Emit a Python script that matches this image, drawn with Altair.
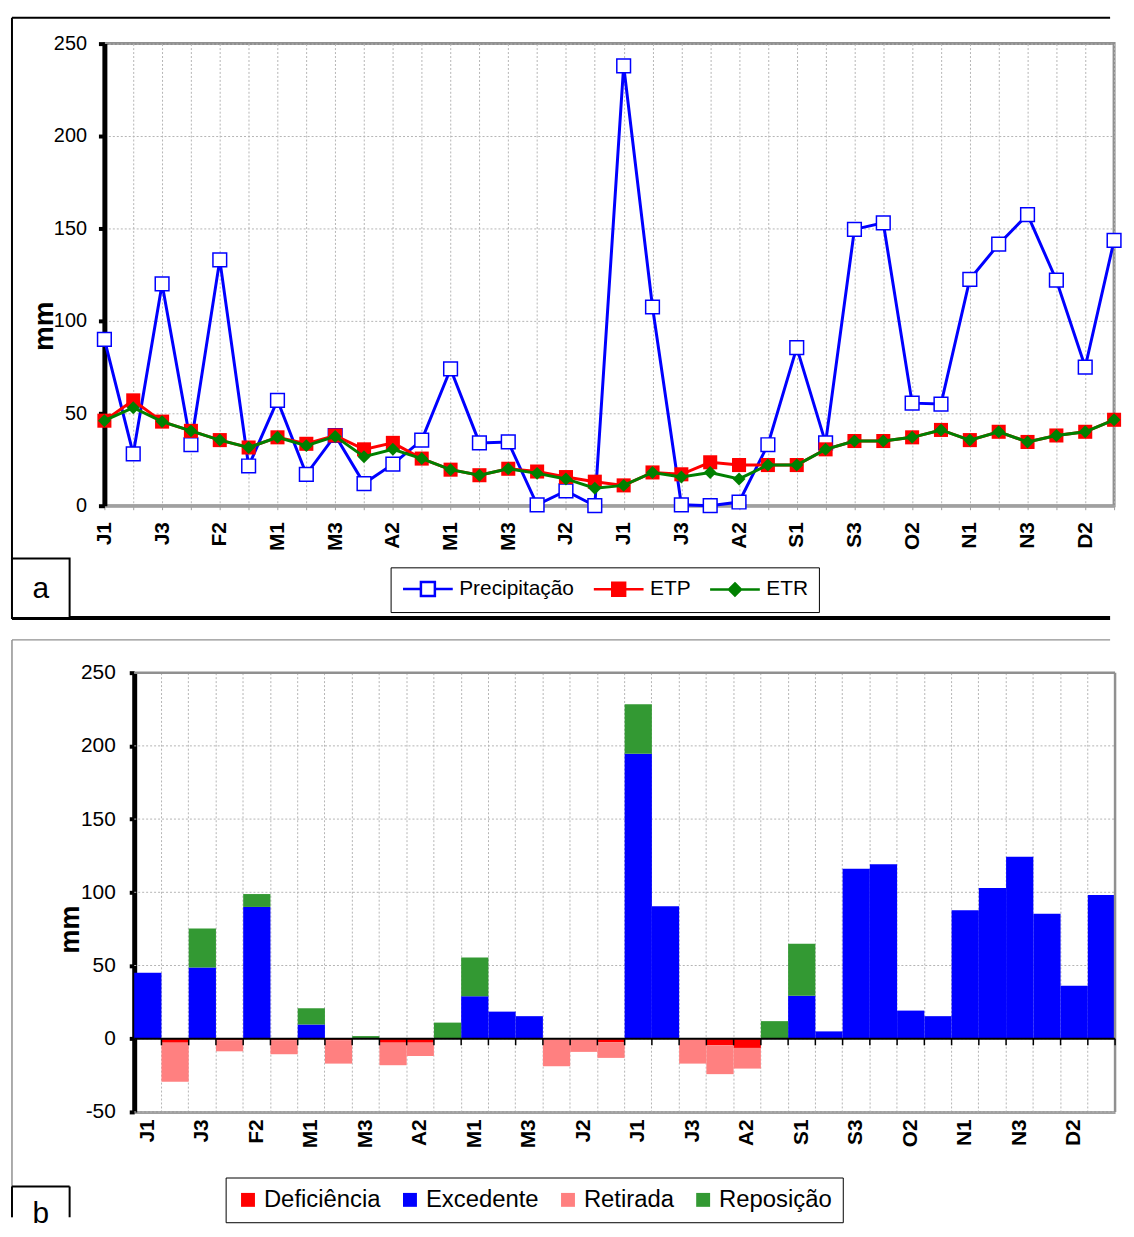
import altair as alt
import pandas as pd

# ---------------- data ----------------
decades = ['J1','J2','J3','F1','F2','F3','M1','M2','M3','A1','A2','A3',
           'M1','M2','M3','J1','J2','J3','J1','J2','J3','A1','A2','A3',
           'S1','S2','S3','O1','O2','O3','N1','N2','N3','D1','D2','D3']

precip = [90, 28, 120, 33, 133, 21.5, 57, 17, 38, 12, 22.5, 35.5,
          74, 34, 34.5, 0.5, 8, 0, 238, 107.5, 0.5, 0, 2, 33,
          85.5, 34, 149.5, 153, 55.5, 55, 122.5, 141.5, 157.5, 122, 75, 143.5]
etp = [46, 57, 45.5, 40.5, 35.5, 31.5, 37, 33.5, 38, 30.5, 34, 25.5,
       19.5, 16.5, 20, 18.5, 15.5, 13, 11, 18, 17, 23.5, 22, 22,
       22, 30.5, 35, 35, 37, 41, 35.5, 40, 34.5, 38, 40, 46.5]
etr = [46, 53, 45.5, 40.5, 35.5, 31.5, 37, 32.5, 37.5, 26.5, 30.5, 25.5,
       19.5, 16.5, 20, 17.5, 14.5, 9.5, 11, 18, 15.5, 18, 14.5, 22,
       22, 30.5, 35, 35, 37, 41, 35.5, 40, 34.5, 38, 40, 46.5]

deficiencia = [0, -2.7, 0, -1, 0, -1, 0, -1, 0, -2.7, -2.7, 0,
               0, 0, 0, -0.5, -0.5, -2.3, 0, 0, -0.5, -4.5, -6.3, 0,
               0, 0, 0, 0, 0, 0, 0, 0, 0, 0, 0, 0]
excedente = [45, 0, 48.6, 0, 90, 0, 9.7, 0, 0, 0, 0, 0,
             29, 18.5, 15.4, 0, 0, 0, 194.6, 90.5, 0, 0, 0, 0,
             29.4, 5, 116, 119.2, 19.2, 15.4, 87.8, 102.9, 124.2, 85.3, 36.2, 98.2]
retirada = [0, -26.7, 0, -7.6, 0, -9.6, 0, -16, 0, -15.4, -9.1, 0,
            0, 0, 0, -18.3, -8.5, -10.8, 0, 0, -16.5, -19.7, -14.1, 0,
            0, 0, 0, 0, 0, 0, 0, 0, 0, 0, 0, 0]
reposicao = [0, 0, 26.7, 0, 8.8, 0, 11.1, 0, 1.8, 0, 0, 11,
             26.4, 0, 0, 0, 0, 0, 33.9, 0, 0, 0, 0, 12,
             35.5, 0, 0, 0, 0, 0, 0, 0, 0, 0, 0, 0]

top_ticks = [0, 50, 100, 150, 200, 250]
bot_ticks = [-50, 0, 50, 100, 150, 200, 250]

series = ['Precipitação', 'ETP', 'ETR']
series_colors = ['#0000ff', '#ff0000', '#008000']
tipos = ['Deficiência', 'Excedente', 'Retirada', 'Reposição']
tipo_colors = ['#ff0000', '#0000ff', '#ff8080', '#339933']

FONT = 'Liberation Sans'
GRID = '#b4b4b4'
BORDER = '#909090'

rows = []
for name, vals in zip(series, [precip, etp, etr]):
    for i, v in enumerate(vals):
        rows.append({'i': i, 'serie': name, 'valor': v})
top_df = pd.DataFrame(rows)

brow = []
for k, (name, vals) in enumerate(zip(tipos, [deficiencia, excedente, retirada, reposicao])):
    for i, v in enumerate(vals):
        brow.append({'i': i, 'tipo': name, 'valor': v, 'ordem': k})
bot_df = pd.DataFrame(brow)
idx_df = pd.DataFrame({'i': list(range(len(decades)))})
grid_df = pd.DataFrame({'valor': bot_ticks})
one = pd.DataFrame({'k': [0]})

js_labels = '[' + ','.join("'%s'" % d for d in decades) + ']'
label_expr = "datum.value % 2 == 0 ? " + js_labels + "[datum.value] : ''"
num_expr = "datum.value < 0 ? '-' + abs(datum.value) : '' + datum.value"

onec = alt.Chart(one)
RIGHT = 1012  # right end of the panel frames (plot coordinates)

# ---------------- top chart ----------------
TW, TH = 1016, 465

xq = alt.X('i:Q', title=None,
           scale=alt.Scale(domain=[0, 35], nice=False, zero=False),
           axis=alt.Axis(values=list(range(36)), labelExpr=label_expr, labelAngle=-90,
                         labelFontSize=21, labelFontWeight='bold', labelColor='black',
                         labelFont=FONT, labelPadding=12, tickSize=4, tickColor='#a0a0a0',
                         domainColor='#a0a0a0', domainWidth=3, gridColor=GRID,
                         gridDash=[2, 2], gridWidth=1, labelFlush=False, labelOverlap=False))
yq = alt.Y('valor:Q',
           scale=alt.Scale(domain=[0, 250], nice=False),
           axis=alt.Axis(values=top_ticks, domainColor='black', domainWidth=5,
                         tickColor='black', tickWidth=4, tickSize=6, labelFontSize=20,
                         labelFont=FONT, labelColor='black', labelPadding=12,
                         gridColor=GRID, gridDash=[2, 2], gridWidth=1, labelFlush=False,
                         title='mm', titleFontSize=28, titleFontWeight='bold', titleFont=FONT,
                         titleColor='black', titleX=-52, titleY=284, titleAngle=-90,
                         titleBaseline='alphabetic', titleAlign='center'))

base = alt.Chart(top_df)
layers = []
shapes_pt = {'Precipitação': dict(shape='square', size=190, fill='white', stroke='#0000ff', strokeWidth=1.5),
             'ETP': dict(shape='square', size=200, fill='#ff0000', stroke='#ff0000', strokeWidth=0),
             'ETR': dict(shape='diamond', size=170, fill='#008000', stroke='#008000', strokeWidth=0)}
for name, col in zip(series, series_colors):
    f = base.transform_filter(alt.datum.serie == name)
    layers.append(f.mark_line(color=col, strokeWidth=3).encode(x=xq, y=yq))
    layers.append(f.mark_point(filled=True, opacity=1, **shapes_pt[name]).encode(x=xq, y=yq))

paths = [
    'M-1,0L1.0,0M2.56,0L4.56,0M1.0,-0.78L2.56,-0.78L2.56,0.78L1.0,0.78Z',
    'M-1,0L4.56,0M1.06,-0.72L2.5,-0.72L2.5,0.72L1.06,0.72Z',
    'M-1,0L4.56,0M1.78,-0.67L2.45,0L1.78,0.67L1.11,0Z',
]
leg_top = alt.Legend(title=None, orient='none', legendX=288, legendY=527, direction='horizontal',
                     strokeColor='black', padding=11, fillColor='white', symbolSize=324,
                     symbolStrokeWidth=2.5, labelFontSize=21, labelFont=FONT, labelColor='black',
                     labelOffset=37, columnPadding=14, symbolOpacity=1)
legend_layer = alt.Chart(pd.DataFrame({'serie': series})).mark_point(filled=False).encode(
    color=alt.Color('serie:N', scale=alt.Scale(domain=series, range=series_colors), legend=leg_top),
    fill=alt.Fill('serie:N', scale=alt.Scale(domain=series, range=['#ffffff', '#ff0000', '#008000']), legend=leg_top),
    shape=alt.Shape('serie:N', scale=alt.Scale(domain=series, range=paths), legend=leg_top),
).transform_filter('false')

frame_top = [
    onec.mark_rule(color='black', strokeWidth=2).encode(x=alt.value(-93), x2=alt.value(RIGHT), y=alt.value(-26)),
    onec.mark_rule(color='black', strokeWidth=2).encode(x=alt.value(-93), y=alt.value(-26), y2=alt.value(578)),
    onec.mark_rule(color='black', strokeWidth=4).encode(x=alt.value(-93), x2=alt.value(RIGHT), y=alt.value(578)),
    onec.mark_rect(fill='white', stroke='black', strokeWidth=2).encode(
        x=alt.value(-93), x2=alt.value(-35), y=alt.value(518), y2=alt.value(578)),
    onec.mark_text(text='a', fontSize=30, font=FONT, color='black', baseline='middle', align='center').encode(
        x=alt.value(-64), y=alt.value(549)),
]

top = alt.layer(*layers, legend_layer, *frame_top).properties(width=TW, height=TH)

# ---------------- bottom chart ----------------
# view starts 30px left of the bar area so that both panels share the same origin
OFF = 30
BW, BH = 987, 442
xb = alt.X('i:O', title=None,
           scale=alt.Scale(range=[OFF, OFF + BW], paddingInner=0, paddingOuter=0),
           axis=alt.Axis(bandPosition=0, labelExpr=label_expr, labelAngle=-90, labelFontSize=21,
                         labelFontWeight='bold', labelColor='black', labelFont=FONT, labelPadding=7,
                         ticks=False, tickSize=0, domainColor='#a0a0a0', domainWidth=3, grid=True,
                         gridColor=GRID, gridDash=[2, 2], gridWidth=1, labelOverlap=False))
yb = alt.Y('valor:Q', stack='zero',
           scale=alt.Scale(domain=[-50, 250], nice=False),
           axis=alt.Axis(values=bot_ticks, labelExpr=num_expr, offset=-OFF, grid=False,
                         domainColor='black', domainWidth=5,
                         tickColor='black', tickWidth=4, tickSize=5, labelFontSize=21,
                         labelFont=FONT, labelColor='black', labelPadding=14, labelFlush=False,
                         title='mm', titleFontSize=27, titleFontWeight='bold', titleFont=FONT,
                         titleColor='black', titleX=-56, titleY=258, titleAngle=-90,
                         titleBaseline='alphabetic', titleAlign='center'))

leg_bot = alt.Legend(title=None, orient='none', legendX=122, legendY=508, direction='horizontal',
                     strokeColor='black', padding=10.5, fillColor='white', symbolType='square',
                     symbolSize=196, symbolStrokeWidth=0, labelFontSize=24, labelFont=FONT,
                     labelColor='black', labelOffset=4, columnPadding=17, symbolOpacity=1)

hgrid = alt.Chart(grid_df).mark_rule(color=GRID, strokeWidth=1, strokeDash=[2, 2]).encode(
    y=alt.Y('valor:Q', scale=alt.Scale(domain=[-50, 250], nice=False)),
    x=alt.value(OFF), x2=alt.value(OFF + BW))
bars = alt.Chart(bot_df).mark_bar().encode(
    x=xb, y=yb,
    color=alt.Color('tipo:N', scale=alt.Scale(domain=tipos, range=tipo_colors), legend=leg_bot),
    order=alt.Order('ordem:Q'),
)
border_bot = [
    onec.mark_rule(color=BORDER, strokeWidth=2.5).encode(x=alt.value(OFF), x2=alt.value(OFF + BW), y=alt.value(0)),
    onec.mark_rule(color=BORDER, strokeWidth=2.5).encode(x=alt.value(OFF + BW), y=alt.value(0), y2=alt.value(BH)),
]
zero_line = onec.mark_rule(color='black', strokeWidth=2).encode(
    y=alt.datum(0), x=alt.value(OFF), x2=alt.value(OFF + BW))
ticks0 = alt.Chart(idx_df).mark_rule(color='black', strokeWidth=1.5).encode(
    x=alt.X('i:O', bandPosition=0), y=alt.datum(0), y2=alt.datum(-4.5))
ticks_end = alt.Chart(idx_df).transform_filter(alt.datum.i == 35).mark_rule(color='black', strokeWidth=1.5).encode(
    x=alt.X('i:O', bandPosition=1), y=alt.datum(0), y2=alt.datum(-4.5))

frame_bot = [
    onec.mark_rule(color=BORDER, strokeWidth=1.5).encode(x=alt.value(-93), x2=alt.value(RIGHT), y=alt.value(-33)),
    onec.mark_rule(color=BORDER, strokeWidth=1.5).encode(x=alt.value(-93), y=alt.value(-33), y2=alt.value(548)),
    onec.mark_rule(color='black', strokeWidth=2).encode(x=alt.value(-93), x2=alt.value(-35), y=alt.value(517)),
    onec.mark_rule(color='black', strokeWidth=2).encode(x=alt.value(-93), y=alt.value(517), y2=alt.value(548)),
    onec.mark_rule(color='black', strokeWidth=2).encode(x=alt.value(-35), y=alt.value(517), y2=alt.value(548)),
    onec.mark_text(text='b', fontSize=30, font=FONT, color='black', baseline='middle', align='center').encode(
        x=alt.value(-64), y=alt.value(545)),
]

bottom = alt.layer(hgrid, bars, *border_bot, zero_line, ticks0, ticks_end, *frame_bot).properties(
    width=OFF + BW, height=BH, view=alt.ViewBackground(stroke='transparent', strokeWidth=0))

chart = alt.vconcat(top, bottom, spacing=17).resolve_scale(
    color='independent', fill='independent', shape='independent'
).resolve_legend(color='independent', fill='independent', shape='independent').properties(
    padding={'left': 0, 'top': 3, 'right': 0, 'bottom': 0}
).configure(font=FONT).configure_view(stroke=BORDER, strokeWidth=3)

chart.save("out.html", embed_options={"renderer": "svg", "actions": False})
